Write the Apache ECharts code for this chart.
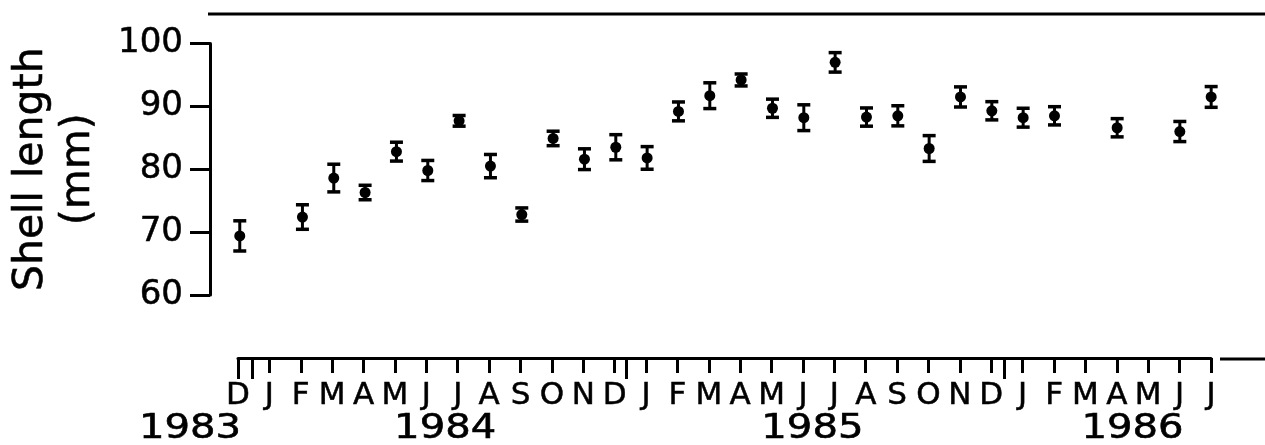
<!DOCTYPE html>
<html>
<head>
<meta charset="utf-8">
<script src="https://cdn.jsdelivr.net/npm/echarts@6/dist/echarts.min.js"></script>
<style>
  html, body { margin: 0; padding: 0; background: #fff; }
  #chart { width: 1265px; height: 445px; }
</style>
</head>
<body>
<div id="chart"></div>
<script>
// Month letters along the sampling axis, Dec 1983 .. Jul 1986 (index 0..31)
const monthLabels = ['D','J','F','M','A','M','J','J','A','S','O','N',
                     'D','J','F','M','A','M','J','J','A','S','O','N',
                     'D','J','F','M','A','M','J','J'];

// Sampling occasions (month index) with mean shell length and standard error (mm)
const sampleMonth = [0, 2, 3, 4, 5, 6, 7, 8, 9, 10, 11, 12, 13, 14, 15, 16, 17, 18, 19, 20, 21, 22, 23, 24, 25, 26, 28, 30, 31];
const meanLength  = [69.4, 72.4, 78.6, 76.3, 82.8, 79.8, 87.7, 80.5, 72.8, 84.9, 81.6, 83.5, 81.8, 89.2, 91.7, 94.2, 89.7, 88.2, 97.0, 88.3, 88.5, 83.3, 91.5, 89.3, 88.2, 88.5, 86.6, 86.0, 91.5];
const stdError    = [2.4, 1.95, 2.2, 1.15, 1.5, 1.6, 0.85, 1.85, 1.05, 1.15, 1.65, 2.0, 1.8, 1.5, 2.05, 0.95, 1.45, 2.05, 1.55, 1.45, 1.6, 2.05, 1.6, 1.45, 1.5, 1.45, 1.45, 1.6, 1.65];

// Year captions under the month row, and the long ticks at year changes
const yearLabels    = ['1983', '1984', '1985', '1986'];
const yearCenters   = [-1.53, 6.6, 18.3, 28.5];
const yearBoundaries = [0, 0.46, 12.38, 24.42];

const yMin = 60, yMax = 100, yStep = 10;

const FONT = '"DejaVu Sans", "Liberation Sans", sans-serif';
const INK = '#000';
const YEAR_ROW = 0.82;

const chart = echarts.init(document.getElementById('chart'), null, { renderer: 'canvas' });

const errorData = sampleMonth.map((m, i) => [m, meanLength[i] - stdError[i], meanLength[i] + stdError[i]]);
const meanData  = sampleMonth.map((m, i) => [m, meanLength[i]]);
const yearData  = yearCenters.map((c, i) => [c, YEAR_ROW, i]);

function renderErrorBar(params, api) {
  const x = api.value(0);
  const lo = api.coord([x, api.value(1)]);
  const hi = api.coord([x, api.value(2)]);
  const half = 6.5;
  const stem = { stroke: INK, lineWidth: 3 };
  const cap = { stroke: INK, lineWidth: 3.5 };
  return {
    type: 'group',
    children: [
      { type: 'line', shape: { x1: lo[0], y1: lo[1], x2: hi[0], y2: hi[1] }, style: stem },
      { type: 'line', shape: { x1: hi[0] - half, y1: hi[1], x2: hi[0] + half, y2: hi[1] }, style: cap },
      { type: 'line', shape: { x1: lo[0] - half, y1: lo[1], x2: lo[0] + half, y2: lo[1] }, style: cap }
    ]
  };
}

function renderYear(params, api) {
  const p = api.coord([api.value(0), api.value(1)]);
  return {
    type: 'text',
    x: p[0],
    y: p[1],
    scaleX: 1.18,
    style: {
      text: yearLabels[api.value(2)],
      font: '34px ' + FONT,
      fill: INK,
      stroke: INK,
      lineWidth: 0.6,
      align: 'center',
      verticalAlign: 'middle'
    }
  };
}

const axisStroke = { color: INK, width: 3 };

const option = {
  animation: false,
  backgroundColor: '#fff',
  grid: [
    { left: 208, right: 22.5, top: 43.5, height: 251.5 },
    { left: 238, right: 54, top: 358, height: 87 }
  ],
  xAxis: [
    { gridIndex: 0, type: 'value', min: -0.95, max: 32, show: false },
    {
      gridIndex: 1, type: 'value', min: 0, max: 31, interval: 1, position: 'top', offset: 0,
      axisLine: { show: true, lineStyle: axisStroke },
      axisTick: { show: true, inside: true, length: 15, lineStyle: axisStroke },
      axisLabel: {
        inside: true, margin: 22, color: INK, fontFamily: FONT, fontSize: 31,
        textBorderColor: INK, textBorderWidth: 0.5,
        formatter: v => monthLabels[v] || ''
      },
      splitLine: { show: false }
    },
    {
      gridIndex: 1, type: 'value', min: 0, max: 31, position: 'top', offset: 0,
      axisLine: { show: false },
      axisTick: { show: true, inside: true, length: 21, customValues: yearBoundaries, lineStyle: axisStroke },
      axisLabel: { show: false },
      splitLine: { show: false }
    }
  ],
  yAxis: [
    {
      gridIndex: 0, type: 'value', min: yMin, max: yMax, interval: yStep,
      axisLine: { show: true, onZero: false, lineStyle: axisStroke },
      axisTick: { show: true, length: 20, lineStyle: axisStroke },
      axisLabel: {
        margin: 27, color: INK, fontFamily: FONT, fontSize: 34,
        textBorderColor: INK, textBorderWidth: 0.5
      },
      splitLine: { show: false },
      name: 'Shell length\n(mm)',
      nameLocation: 'middle',
      nameGap: 108,
      nameTextStyle: {
        color: INK, fontFamily: FONT, fontSize: 41, lineHeight: 47,
        textBorderColor: INK, textBorderWidth: 0.6
      }
    },
    { gridIndex: 1, type: 'value', min: 0, max: 1, inverse: true, show: false }
  ],
  series: [
    {
      type: 'custom', xAxisIndex: 0, yAxisIndex: 0,
      renderItem: renderErrorBar,
      encode: { x: 0, y: [1, 2] },
      data: errorData, z: 2
    },
    {
      type: 'scatter', xAxisIndex: 0, yAxisIndex: 0,
      symbol: 'circle', symbolSize: 11,
      itemStyle: { color: INK, opacity: 1 },
      data: meanData, z: 3
    },
    {
      type: 'custom', xAxisIndex: 1, yAxisIndex: 1,
      renderItem: renderYear, clip: false,
      encode: { x: 0, y: 1 },
      data: yearData, z: 3
    }
  ],
  graphic: [
    { type: 'line', shape: { x1: 208, y1: 14, x2: 1265, y2: 14 }, style: { stroke: INK, lineWidth: 3 } },
    { type: 'line', shape: { x1: 1220, y1: 359, x2: 1265, y2: 359 }, style: { stroke: INK, lineWidth: 3 } }
  ]
};

chart.setOption(option);
</script>
</body>
</html>
